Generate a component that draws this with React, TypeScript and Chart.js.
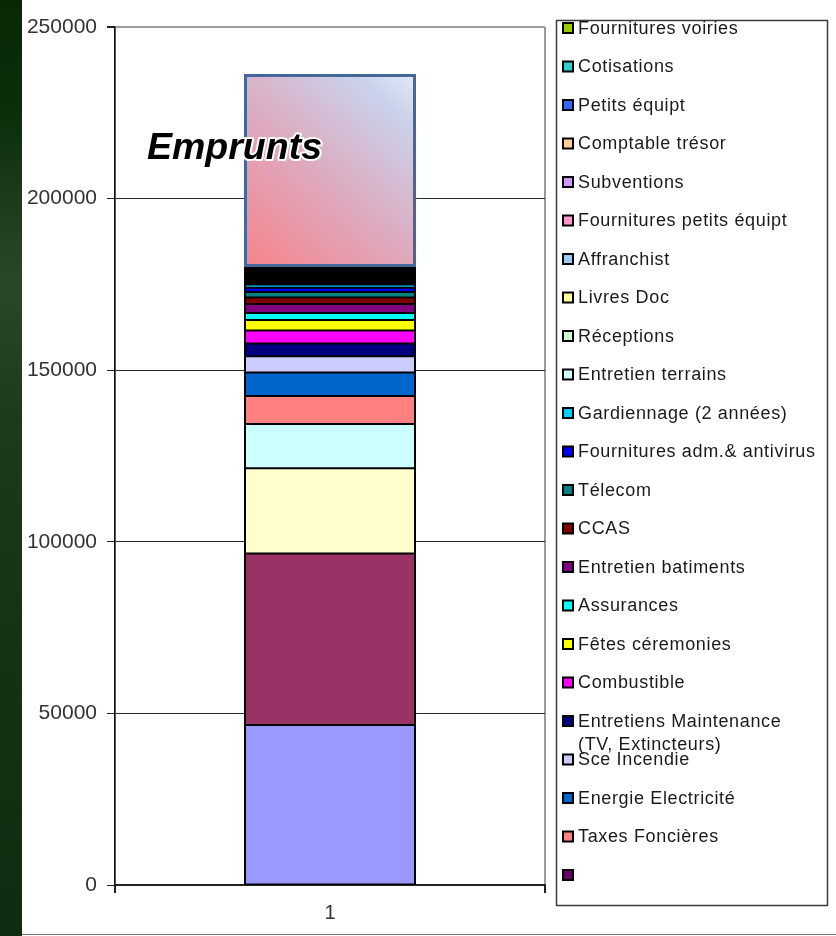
import React, { useEffect, useRef } from 'react';
import { Chart, registerables } from 'chart.js';

Chart.register(...registerables);

// ---------- data ----------
const categories = ['1'];

const seriesLabels = [
  'Série 1',
  'Série 2',
  'Série 3',
  'Série 4',
  '',
  'Taxes Foncières',
  'Energie Electricité',
  'Sce Incendie',
  'Entretiens Maintenance\n(TV, Extincteurs)',
  'Combustible',
  'Fêtes céremonies',
  'Assurances',
  'Entretien batiments',
  'CCAS',
  'Télecom',
  'Fournitures adm.& antivirus',
  'Gardiennage (2 années)',
  'Entretien terrains',
  'Réceptions',
  'Livres Doc',
  'Affranchist',
  'Fournitures petits équipt',
  'Subventions',
  'Comptable trésor',
  'Petits équipt',
  'Cotisations',
  'Fournitures voiries',
];

const seriesValues = [
  46600, 50000, 24800, 12900, 0, 8200, 6800, 4800, 3700, 3800, 3000, 2100, 2600,
  1900, 1600, 1200, 1000, 700, 400, 600, 300, 500, 450, 550, 350, 650, 600,
];

const seriesColors = [
  '#9999FF', '#993366', '#FFFFCC', '#CCFFFF', '#660066', '#FF8080', '#0066CC',
  '#CCCCFF', '#000080', '#FF00FF', '#FFFF00', '#00FFFF', '#800080', '#800000',
  '#008080', '#0000FF', '#00CCFF', '#CCFFFF', '#CCFFCC', '#FFFF99', '#99CCFF',
  '#FF99CC', '#CC99FF', '#FFCC99', '#3366FF', '#33CCCC', '#99CC00',
];

// the first series are not listed in the (clipped) legend
const legendSkip = 4;

const empruntsLabel = 'Emprunts';
const empruntsValue = 56200;

const yMin = 0;
const yMax = 250000;
const yStep = 50000;

const barFraction = 0.4;
const baseSum = seriesValues.reduce((a, b) => a + b, 0);

// ---------- plugins ----------
const backgroundPlugin = {
  id: 'slideBackground',
  beforeDraw(chart: any) {
    const { ctx, width, height } = chart;
    ctx.save();
    ctx.fillStyle = '#ffffff';
    ctx.fillRect(0, 0, width, height);
    const g = ctx.createLinearGradient(0, 0, 0, height);
    g.addColorStop(0, '#082806');
    g.addColorStop(0.12, '#0c2e0b');
    g.addColorStop(0.3, '#2a472a');
    g.addColorStop(0.45, '#1c3a1c');
    g.addColorStop(0.7, '#143314');
    g.addColorStop(1, '#0f2c10');
    ctx.fillStyle = g;
    ctx.fillRect(0, 0, 22, height);
    ctx.strokeStyle = '#7a7a7a';
    ctx.lineWidth = 1;
    ctx.beginPath();
    ctx.moveTo(22, height - 1.5);
    ctx.lineTo(width, height - 1.5);
    ctx.stroke();
    ctx.restore();
  },
};

// black backing behind the stacked column so the segment seams read as solid outlines
const stackBackingPlugin = {
  id: 'stackBacking',
  beforeDatasetsDraw(chart: any) {
    const { ctx } = chart;
    const xs = chart.scales.x;
    const ys = chart.scales.y;
    const xc = xs.getPixelForValue(0);
    const w = xs.width * barFraction;
    const y0 = ys.getPixelForValue(0);
    const y1 = ys.getPixelForValue(baseSum);
    ctx.save();
    ctx.fillStyle = '#000';
    ctx.fillRect(xc - w / 2, y1, w, y0 - y1);
    ctx.restore();
  },
};

const legendPlugin = {
  id: 'boxLegend',
  afterDraw(chart: any) {
    const { ctx, chartArea } = chart;
    const left = chartArea.right + 11;
    const top = chartArea.top - 7;
    const boxW = 271;
    const boxH = 885;
    ctx.save();
    ctx.strokeStyle = '#3a3a3a';
    ctx.lineWidth = 1.5;
    ctx.strokeRect(left + 0.5, top + 0.5, boxW, boxH);

    const items: { label: string; color: string }[] = [];
    for (let i = seriesLabels.length - 1; i >= legendSkip; i--) {
      items.push({ label: seriesLabels[i], color: seriesColors[i] });
    }
    const step = 38.5;
    let cy = top + 8;
    ctx.font = '18px "Liberation Sans", Arial, sans-serif';
    (ctx as any).letterSpacing = '0.65px';
    ctx.textBaseline = 'middle';
    ctx.textAlign = 'left';
    items.forEach((it) => {
      ctx.fillStyle = '#000';
      ctx.fillRect(left + 6, cy - 6, 12, 12);
      ctx.fillStyle = it.color;
      ctx.fillRect(left + 8, cy - 4, 8, 8);
      ctx.fillStyle = '#1a1a1a';
      const lines = it.label.split('\n');
      lines.forEach((ln, k) => {
        ctx.fillText(ln, left + 22, cy + 1 + k * 23);
      });
      cy += step;
    });
    ctx.restore();
  },
};

const labelPlugin = {
  id: 'empruntsLabel',
  afterDatasetsDraw(chart: any) {
    const { ctx } = chart;
    const x = chart.scales.x;
    const y = chart.scales.y;
    const px = x.getPixelForValue(0) - 183;
    const py = y.getPixelForValue(211500);
    ctx.save();
    ctx.font = 'italic bold 37.5px "Liberation Sans", Arial, sans-serif';
    ctx.textBaseline = 'alphabetic';
    ctx.textAlign = 'left';
    ctx.lineJoin = 'round';
    ctx.strokeStyle = '#ffffff';
    ctx.lineWidth = 4;
    ctx.strokeText(empruntsLabel, px, py);
    ctx.fillStyle = '#000000';
    ctx.fillText(empruntsLabel, px, py);
    ctx.restore();
  },
};

export default function App() {
  const ref = useRef<HTMLCanvasElement | null>(null);

  useEffect(() => {
    if (!ref.current) return;
    const datasets: any[] = seriesValues.map((v, i) => ({
      label: seriesLabels[i],
      data: [v],
      backgroundColor: seriesColors[i],
      borderColor: '#000000',
      borderWidth: v < 900 ? 2 : { left: 2, right: 2, top: 1, bottom: 1 },
      borderSkipped: false,
      stack: 's',
    }));
    datasets.push({
      label: empruntsLabel,
      data: [empruntsValue],
      backgroundColor: (c: any) => {
        const chart = c.chart;
        const xs = chart.scales?.x;
        const ys = chart.scales?.y;
        if (!chart.chartArea || !xs || !ys) return '#E0A8BC';
        const xc = xs.getPixelForValue(0);
        const w = xs.width * barFraction;
        const y0 = ys.getPixelForValue(baseSum);
        const y1 = ys.getPixelForValue(baseSum + empruntsValue);
        const g = chart.ctx.createLinearGradient(xc - w / 2, y0, xc + w / 2, y1);
        g.addColorStop(0, '#F7838A');
        g.addColorStop(0.45, '#DEA9BE');
        g.addColorStop(0.85, '#C9D3EC');
        g.addColorStop(1, '#E2EAF6');
        return g;
      },
      borderColor: '#45689A',
      borderWidth: 3,
      borderSkipped: false,
      stack: 's',
    });

    const chart = new Chart(ref.current, {
      type: 'bar',
      data: { labels: categories, datasets },
      options: {
        responsive: false,
        animation: false,
        devicePixelRatio: 1,
        layout: { padding: { left: 0, top: 27, right: 291, bottom: 0 } },
        datasets: { bar: { categoryPercentage: 1, barPercentage: barFraction } },
        plugins: {
          legend: { display: false },
          tooltip: { enabled: false },
          title: { display: false },
        },
        scales: {
          x: {
            stacked: true,
            offset: true,
            grid: {
              offset: true,
              color: '#9a9a9a',
              lineWidth: 2,
              tickColor: '#222',
              tickLength: 8,
              drawTicks: true,
            },
            border: { display: true, color: '#222', width: 2 },
            ticks: {
              color: '#333',
              padding: 8,
              font: { family: '"Liberation Sans", Arial, sans-serif', size: 20 },
            },
            afterFit: (s: any) => {
              s.height = 51;
            },
          },
          y: {
            stacked: true,
            min: yMin,
            max: yMax,
            grid: {
              color: (c: any) => (c.tick && c.tick.value === yMax ? '#9a9a9a' : '#2a2a2a'),
              lineWidth: (c: any) => (c.tick && c.tick.value === yMax ? 2 : 1),
              tickColor: '#222',
              tickLength: 8,
            },
            border: { display: true, color: '#111', width: 1.5 },
            ticks: {
              stepSize: yStep,
              color: '#333',
              padding: 10,
              font: { family: '"Liberation Sans", Arial, sans-serif', size: 21 },
              callback: (v: any) => String(v),
            },
            afterFit: (s: any) => {
              s.width = 115;
            },
          },
        },
      },
      plugins: [backgroundPlugin, stackBackingPlugin, labelPlugin, legendPlugin],
    });
    return () => chart.destroy();
  }, []);

  return (
    <div style={{ position: 'absolute', left: 0, top: 0, width: 836, height: 936 }}>
      <canvas ref={ref} width={836} height={936} style={{ display: 'block', width: 836, height: 936 }} />
    </div>
  );
}
